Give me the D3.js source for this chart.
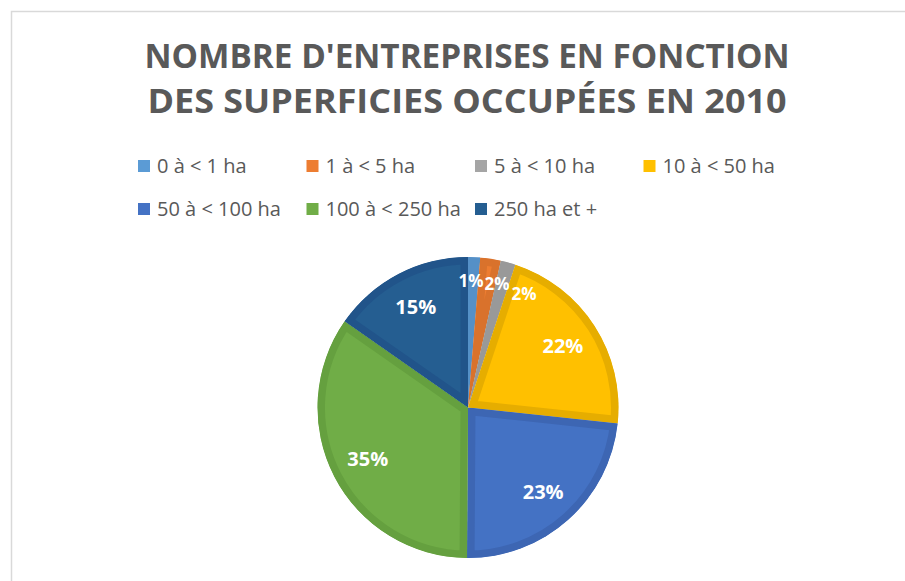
<!DOCTYPE html>
<html>
<head>
<meta charset="utf-8">
<script src="https://cdn.jsdelivr.net/npm/d3@7"></script>
<style>
  body { margin: 0; background: #fff; }
  svg { display: block; font-family: "Open Sans", "Liberation Sans", sans-serif; }
</style>
</head>
<body>
<div id="chart"></div>
<script>
const titleLines = ["NOMBRE D'ENTREPRISES EN FONCTION", 'DES SUPERFICIES OCCUPÉES EN 2010'];
const categories = ['0 à < 1 ha', '1 à < 5 ha', '5 à < 10 ha', '10 à < 50 ha', '50 à < 100 ha', '100 à < 250 ha', '250 ha et +'];
const shares = [1.3, 2.2, 1.6, 21.6, 23.4, 34.6, 15.3];
const fills = ['#5b9bd5', '#ed7d31', '#a5a5a5', '#ffc000', '#4472c4', '#70ad47', '#255e91'];
const edges = ['#5590c7', '#d9722c', '#999999', '#e6ad00', '#3d66b3', '#65a03f', '#21548a'];

const width = 905;
const height = 581;
const cx = 468;
const cy = 407.5;
const radius = 150.5;

const svg = d3.select('#chart').append('svg')
  .attr('width', width)
  .attr('height', height);

// chart frame (right/bottom edges lie outside the window)
svg.append('rect')
  .attr('x', 11.5).attr('y', 11.5)
  .attr('width', 915).attr('height', 600)
  .attr('fill', '#fff')
  .attr('stroke', '#d9d9d9')
  .attr('stroke-width', 1.5);

svg.selectAll('text.title')
  .data(titleLines)
  .join('text')
  .attr('class', 'title')
  .attr('x', 467)
  .attr('y', (d, i) => 68 + i * 44.5)
  .attr('text-anchor', 'middle')
  .attr('font-size', 34)
  .attr('font-weight', 700)
  .attr('fill', '#595959')
  .attr('textLength', (d, i) => i === 0 ? 645 : 639)
  .attr('lengthAdjust', 'spacingAndGlyphs')
  .text(d => d);

// legend: 4 columns grid
const colWidth = 168.5;
const legend = svg.append('g').attr('class', 'legend');
const item = legend.selectAll('g.item')
  .data(categories)
  .join('g')
  .attr('class', 'item')
  .attr('transform', (d, i) => `translate(${138 + (i % 4) * colWidth},${166 + Math.floor(i / 4) * 43})`);

item.append('rect')
  .attr('x', 0).attr('y', -6)
  .attr('width', 12).attr('height', 12)
  .attr('fill', (d, i) => fills[i]);

item.append('text')
  .attr('x', 19)
  .attr('y', 7)
  .attr('font-size', 20)
  .attr('fill', '#595959')
  .text(d => d);

// pie
const pie = d3.pie().sort(null).value(d => d)(shares);
const arc = d3.arc().innerRadius(0).outerRadius(radius);
const total = d3.sum(shares);

const g = svg.append('g').attr('transform', `translate(${cx},${cy})`);
const defs = svg.append('defs');

pie.forEach((p, i) => {
  defs.append('clipPath').attr('id', `clip-${i}`)
    .append('path').attr('d', arc(p));
});

g.selectAll('path.slice')
  .data(pie)
  .join('path')
  .attr('class', 'slice')
  .attr('d', arc)
  .attr('fill', (d, i) => fills[i])
  .attr('stroke', (d, i) => edges[i])
  .attr('stroke-width', 15)
  .attr('stroke-linejoin', 'miter')
  .attr('clip-path', (d, i) => `url(#clip-${i})`);

// small slices: labels fanned around their cluster so they sit side by side near the rim
g.selectAll('text.label')
  .data(pie)
  .join('text')
  .attr('class', 'label')
  .attr('transform', d => {
    const a = (d.startAngle + d.endAngle) / 2;
    const small = d.value / total < 0.05;
    const r = small ? radius * 0.84 : radius * 0.75;
    const a2 = small ? (a - 0.06) * 1.9 + 0.06 : a;
    return `translate(${r * Math.sin(a2)},${-r * Math.cos(a2)})`;
  })
  .attr('text-anchor', 'middle')
  .attr('dy', '0.35em')
  .attr('font-size', d => d.value / total < 0.05 ? 17 : 20)
  .attr('font-weight', 700)
  .attr('fill', '#fff')
  .text(d => `${Math.round(d.value / total * 100)}%`);
</script>
</body>
</html>
